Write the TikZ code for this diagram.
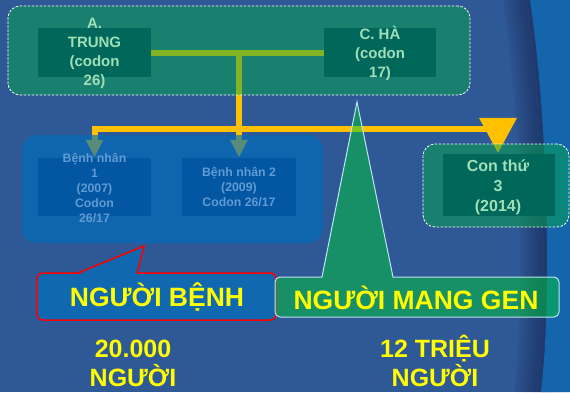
\documentclass[tikz,border=0pt]{standalone}
\usepackage{fontspec}
\setmainfont{Liberation Sans}
\usetikzlibrary{calc}
\pgfdeclarelayer{back}
\pgfdeclarelayer{lines}
\pgfsetlayers{back,lines,main}
\definecolor{bg}{RGB}{47,88,150}
\definecolor{edgeblue}{RGB}{21,101,173}
\definecolor{shadowc}{RGB}{25,45,90}
\definecolor{ylw}{RGB}{255,192,0}
\definecolor{teal50}{RGB}{5,168,74}
\definecolor{darkteal}{RGB}{0,104,90}
\definecolor{lgreen}{RGB}{160,222,184}
\definecolor{patblue}{RGB}{0,111,188}
\definecolor{innerblue}{RGB}{2,86,162}
\definecolor{dimtxt}{RGB}{96,155,212}
\definecolor{callgreen}{RGB}{0,200,58}
\definecolor{callborder}{RGB}{190,228,240}
\definecolor{textyellow}{RGB}{255,255,0}
\definecolor{callblue}{RGB}{16,104,176}
\begin{document}
\begin{tikzpicture}[x=1pt,y=-1pt,
  grp/.style={draw=white, dash pattern=on 2.5pt off 1.5pt, line width=0.8pt, fill=teal50, fill opacity=0.5, rounded corners=12pt, inner sep=0pt},
  darkbox/.style={fill=darkteal, inner sep=0pt},
  patgrp/.style={fill=patblue, fill opacity=0.65, rounded corners=15pt, inner sep=0pt},
  patbox/.style={fill=innerblue, inner sep=0pt},
  toptext/.style={text=lgreen, align=center, inner sep=0pt, font=\fontsize{15}{19}\selectfont\bfseries},
  pattext/.style={text=dimtxt, align=center, inner sep=0pt, font=\fontsize{12.3}{15}\selectfont\bfseries},
  childtext/.style={text=lgreen, align=center, inner sep=0pt, font=\fontsize{16}{20}\selectfont\bfseries},
  bigyellow/.style={text=textyellow, align=center, inner sep=0pt, font=\fontsize{26.5}{30}\selectfont\bfseries},
  bottomtext/.style={text=textyellow, align=center, inner sep=0pt, font=\fontsize{25}{29}\selectfont\bfseries},
  bus/.style={draw=ylw, line width=6pt}
]
\useasboundingbox (0,0) rectangle (570,392);
\begin{pgfonlayer}{back}
\fill[bg] (0,0) rectangle (570,392);
\foreach \k in {27,24,...,3} {
  \begin{scope}[xshift=-\k pt]
  \fill[shadowc, opacity=0.1] (530,0) .. controls (548,120) and (552,300) .. (541,392) -- (575,392) -- (575,0) -- cycle;
  \end{scope}
}
\fill[edgeblue] (530,0) .. controls (548,120) and (552,300) .. (541,392) -- (570,392) -- (570,0) -- cycle;
\end{pgfonlayer}

% top group
\node[grp, minimum width=462pt, minimum height=89pt] (topgrp) at (239,50.5) {};
\node[darkbox, minimum width=113pt, minimum height=49pt] (trung) at (94.5,52.5) {};
\node[darkbox, minimum width=112pt, minimum height=49pt] (ha) at (380,52.5) {};
\node[toptext] (trungtxt) at (94.5,53.5) {A.\\TRUNG\\(codon\\26)};
\node[toptext] (hatxt) at (380,53.5) {C. HÀ\\(codon\\17)};

% patients group
\node[patgrp, minimum width=301pt, minimum height=108pt] (patgrp) at (172.5,189) {};
\node[patbox, minimum width=113pt, minimum height=58pt] (p1) at (94.5,187) {};
\node[patbox, minimum width=114pt, minimum height=58pt] (p2) at (239,187) {};
\node[pattext] (p1txt) at (94.5,188) {Bệnh nhân\\1\\(2007)\\Codon\\26/17};
\node[pattext] (p2txt) at (p2.center) {Bệnh nhân 2\\(2009)\\Codon 26/17};

% child group
\node[grp, minimum width=146pt, minimum height=83pt] (childgrp) at (496,185.5) {};
\node[darkbox, minimum width=112pt, minimum height=62pt] (child) at (499,185) {};
\node[childtext] (childtxt) at (498,187) {Con thứ\\3\\(2014)};

% connectors
\coordinate (j1) at (239,52.5);
\coordinate (j2) at (239,129);
\coordinate (busR) at (490,129);
\begin{pgfonlayer}{lines}
\draw[bus] (trung.east) -- (ha.west);
\draw[bus] (j1) -- (j2);
\draw[bus, line join=miter] ($(p1.north)+(0,-18)$) |- (busR);
\draw[bus] (j2) -- ($(p2.north)+(0,-18)$);
\fill[ylw] ($(p1.north)+(-9,-18)$) -- ($(p1.north)+(9,-18)$) -- ($(p1.north)+(0,-1)$) -- cycle;
\fill[ylw] ($(p2.north)+(-9,-18)$) -- ($(p2.north)+(9,-18)$) -- ($(p2.north)+(0,-1)$) -- cycle;
\fill[ylw] ($(child.north)+(-20,-36)$) -- ($(child.north)+(18,-36)$) -- ($(child.north)+(-1,-1)$) -- cycle;
\end{pgfonlayer}

% callouts
\node[minimum width=239pt, minimum height=47pt, fill=callblue, draw=red, line width=1.5pt, rounded corners=6pt, inner sep=0pt] (sickbox) at (156.5,296.5) {};
\fill[callblue] (78,274.6) -- (144,246) -- (137,274.6) -- cycle;
\draw[red, line width=1.5pt, line join=miter] (78,273) -- (144,246) -- (137,273);
\draw[fill=callgreen, fill opacity=0.5, draw=callborder, line width=1pt]
  (322,277) -- (357,102) -- (393,277) [rounded corners=5pt] -- (559,277) -- (559,317) -- (275,317) -- (275,277) [sharp corners] -- cycle;
\node[bigyellow] (sick) at (157,297) {NGƯỜI BỆNH};
\node[bigyellow] (carrier) at (416,298) {NGƯỜI MANG GEN};

\node[bottomtext] (n1) at (133,363) {20.000\\NGƯỜI};
\node[bottomtext] (n2) at (435,361) {12 TRIỆU\\NGƯỜI};
\end{tikzpicture}
\end{document}
